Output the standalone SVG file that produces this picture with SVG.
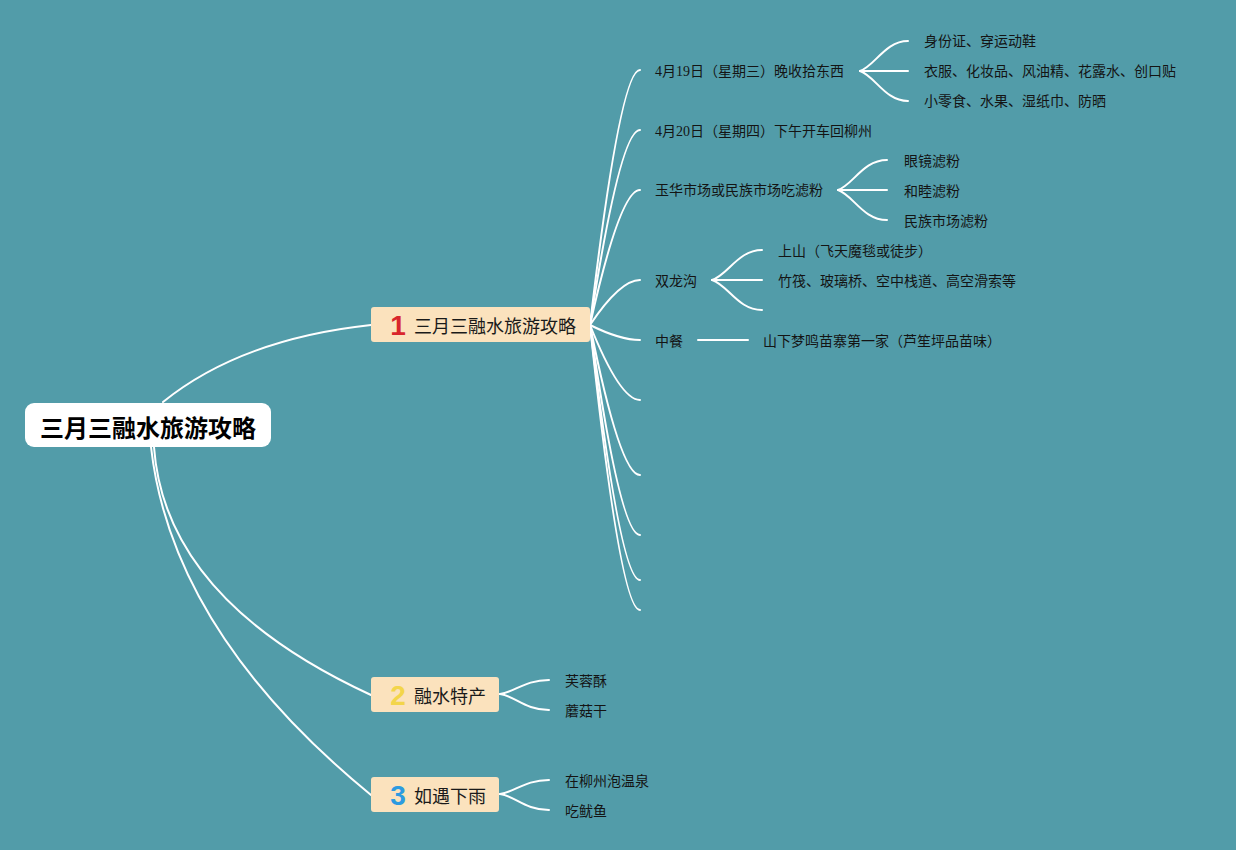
<svg xmlns="http://www.w3.org/2000/svg" width="1236" height="850" viewBox="0 0 1236 850">
<style>
.bg{fill:#529ca9}
.ln{fill:none;stroke:#ffffff;stroke-width:2;stroke-linecap:round}
.root{fill:#ffffff}
.br{fill:#fbe2bd}
.t0{font-family:"Noto Sans CJK SC","Liberation Sans",sans-serif;font-size:24px;font-weight:bold;fill:#000}
.t1{font-family:"Noto Sans CJK SC","Liberation Sans",sans-serif;font-size:18px;fill:#1a1a1a}
.t2{font-family:"Liberation Serif","Noto Sans CJK SC",serif;font-size:14px;fill:#141414}
.num{font-family:"Liberation Sans","Noto Sans CJK SC",sans-serif;font-size:28px;font-weight:bold}
</style>
<rect class="bg" x="0" y="0" width="1236" height="850"/>
<g id="connectors">
<path class="ln" d="M163,402 Q241,339 371,325"/>
<path class="ln" d="M154,447 Q165,600 371,695"/>
<path class="ln" d="M151,447 Q172,632 371,795"/>
<path class="ln" d="M590,325 Q620,70 640,70"/>
<path class="ln" d="M590,325 Q620,130 640,130"/>
<path class="ln" d="M590,325 Q620,190 640,190"/>
<path class="ln" d="M590,325 Q620,280 640,280"/>
<path class="ln" d="M590,325 Q620,340 640,340"/>
<path class="ln" d="M590,325 Q620,400 640,400"/>
<path class="ln" d="M590,325 Q620,475 640,475"/>
<path class="ln" d="M590,325 Q620,535 640,535"/>
<path class="ln" d="M590,325 Q620,580 640,580"/>
<path class="ln" d="M590,325 Q620,610 640,610"/>
<path class="ln" d="M860,71 C875,66 885,41 908,41"/>
<path class="ln" d="M860,71 L908,71"/>
<path class="ln" d="M860,71 C875,76 885,101 908,101"/>
<path class="ln" d="M838,190 C853,185 863,160 887,160"/>
<path class="ln" d="M838,190 L887,190"/>
<path class="ln" d="M838,190 C853,195 863,220 887,220"/>
<path class="ln" d="M712,280 C728,275 738,250 762,250"/>
<path class="ln" d="M712,280 L762,280"/>
<path class="ln" d="M712,280 C728,285 738,310 762,310"/>
<path class="ln" d="M698,340 L748,340"/>
<path class="ln" d="M500,694 C515,692 525,680 549,680"/>
<path class="ln" d="M500,694 C515,696 525,710 549,710"/>
<path class="ln" d="M500,794 C515,792 525,780 549,780"/>
<path class="ln" d="M500,794 C515,796 525,810 549,810"/>
</g>
<g id="root">
<rect class="root" x="25" y="403" width="246" height="44" rx="9"/>
<text class="t0" x="148" y="426" text-anchor="middle" dominant-baseline="central">三月三融水旅游攻略</text>
</g>
<g id="b1">
<rect class="br" x="371" y="307" width="219" height="35" rx="3"/>
<text class="num" x="398" y="325" text-anchor="middle" dominant-baseline="central" fill="#d9262c">1</text>
<text class="t1" x="414" y="325" dominant-baseline="central">三月三融水旅游攻略</text>
</g>
<g id="b2">
<rect class="br" x="371" y="677" width="128" height="35" rx="3"/>
<text class="num" x="398" y="695" text-anchor="middle" dominant-baseline="central" fill="#f3d54a">2</text>
<text class="t1" x="414" y="695" dominant-baseline="central">融水特产</text>
</g>
<g id="b3">
<rect class="br" x="371" y="777" width="128" height="35" rx="3"/>
<text class="num" x="398" y="795" text-anchor="middle" dominant-baseline="central" fill="#2d9be0">3</text>
<text class="t1" x="414" y="795" dominant-baseline="central">如遇下雨</text>
</g>
<g id="c1"><text class="t2" x="655" y="71" dominant-baseline="central">4月19日（星期三）晚收拾东西</text></g>
<g id="c1a"><text class="t2" x="924" y="41" dominant-baseline="central">身份证、穿运动鞋</text></g>
<g id="c1b"><text class="t2" x="924" y="71" dominant-baseline="central">衣服、化妆品、风油精、花露水、创口贴</text></g>
<g id="c1c"><text class="t2" x="924" y="101" dominant-baseline="central">小零食、水果、湿纸巾、防晒</text></g>
<g id="c2"><text class="t2" x="655" y="131" dominant-baseline="central">4月20日（星期四）下午开车回柳州</text></g>
<g id="c3"><text class="t2" x="655" y="190" dominant-baseline="central">玉华市场或民族市场吃滤粉</text></g>
<g id="c3a"><text class="t2" x="904" y="161" dominant-baseline="central">眼镜滤粉</text></g>
<g id="c3b"><text class="t2" x="904" y="191" dominant-baseline="central">和睦滤粉</text></g>
<g id="c3c"><text class="t2" x="904" y="221" dominant-baseline="central">民族市场滤粉</text></g>
<g id="c4"><text class="t2" x="655" y="281" dominant-baseline="central">双龙沟</text></g>
<g id="c4a"><text class="t2" x="778" y="251" dominant-baseline="central">上山（飞天魔毯或徒步）</text></g>
<g id="c4b"><text class="t2" x="778" y="281" dominant-baseline="central">竹筏、玻璃桥、空中栈道、高空滑索等</text></g>
<g id="c5"><text class="t2" x="655" y="341" dominant-baseline="central">中餐</text></g>
<g id="c5a"><text class="t2" x="763" y="341" dominant-baseline="central">山下梦鸣苗寨第一家（芦笙坪品苗味）</text></g>
<g id="d1"><text class="t2" x="565" y="681" dominant-baseline="central">芙蓉酥</text></g>
<g id="d2"><text class="t2" x="565" y="711" dominant-baseline="central">蘑菇干</text></g>
<g id="e1"><text class="t2" x="565" y="781" dominant-baseline="central">在柳州泡温泉</text></g>
<g id="e2"><text class="t2" x="565" y="811" dominant-baseline="central">吃鱿鱼</text></g>
</svg>
